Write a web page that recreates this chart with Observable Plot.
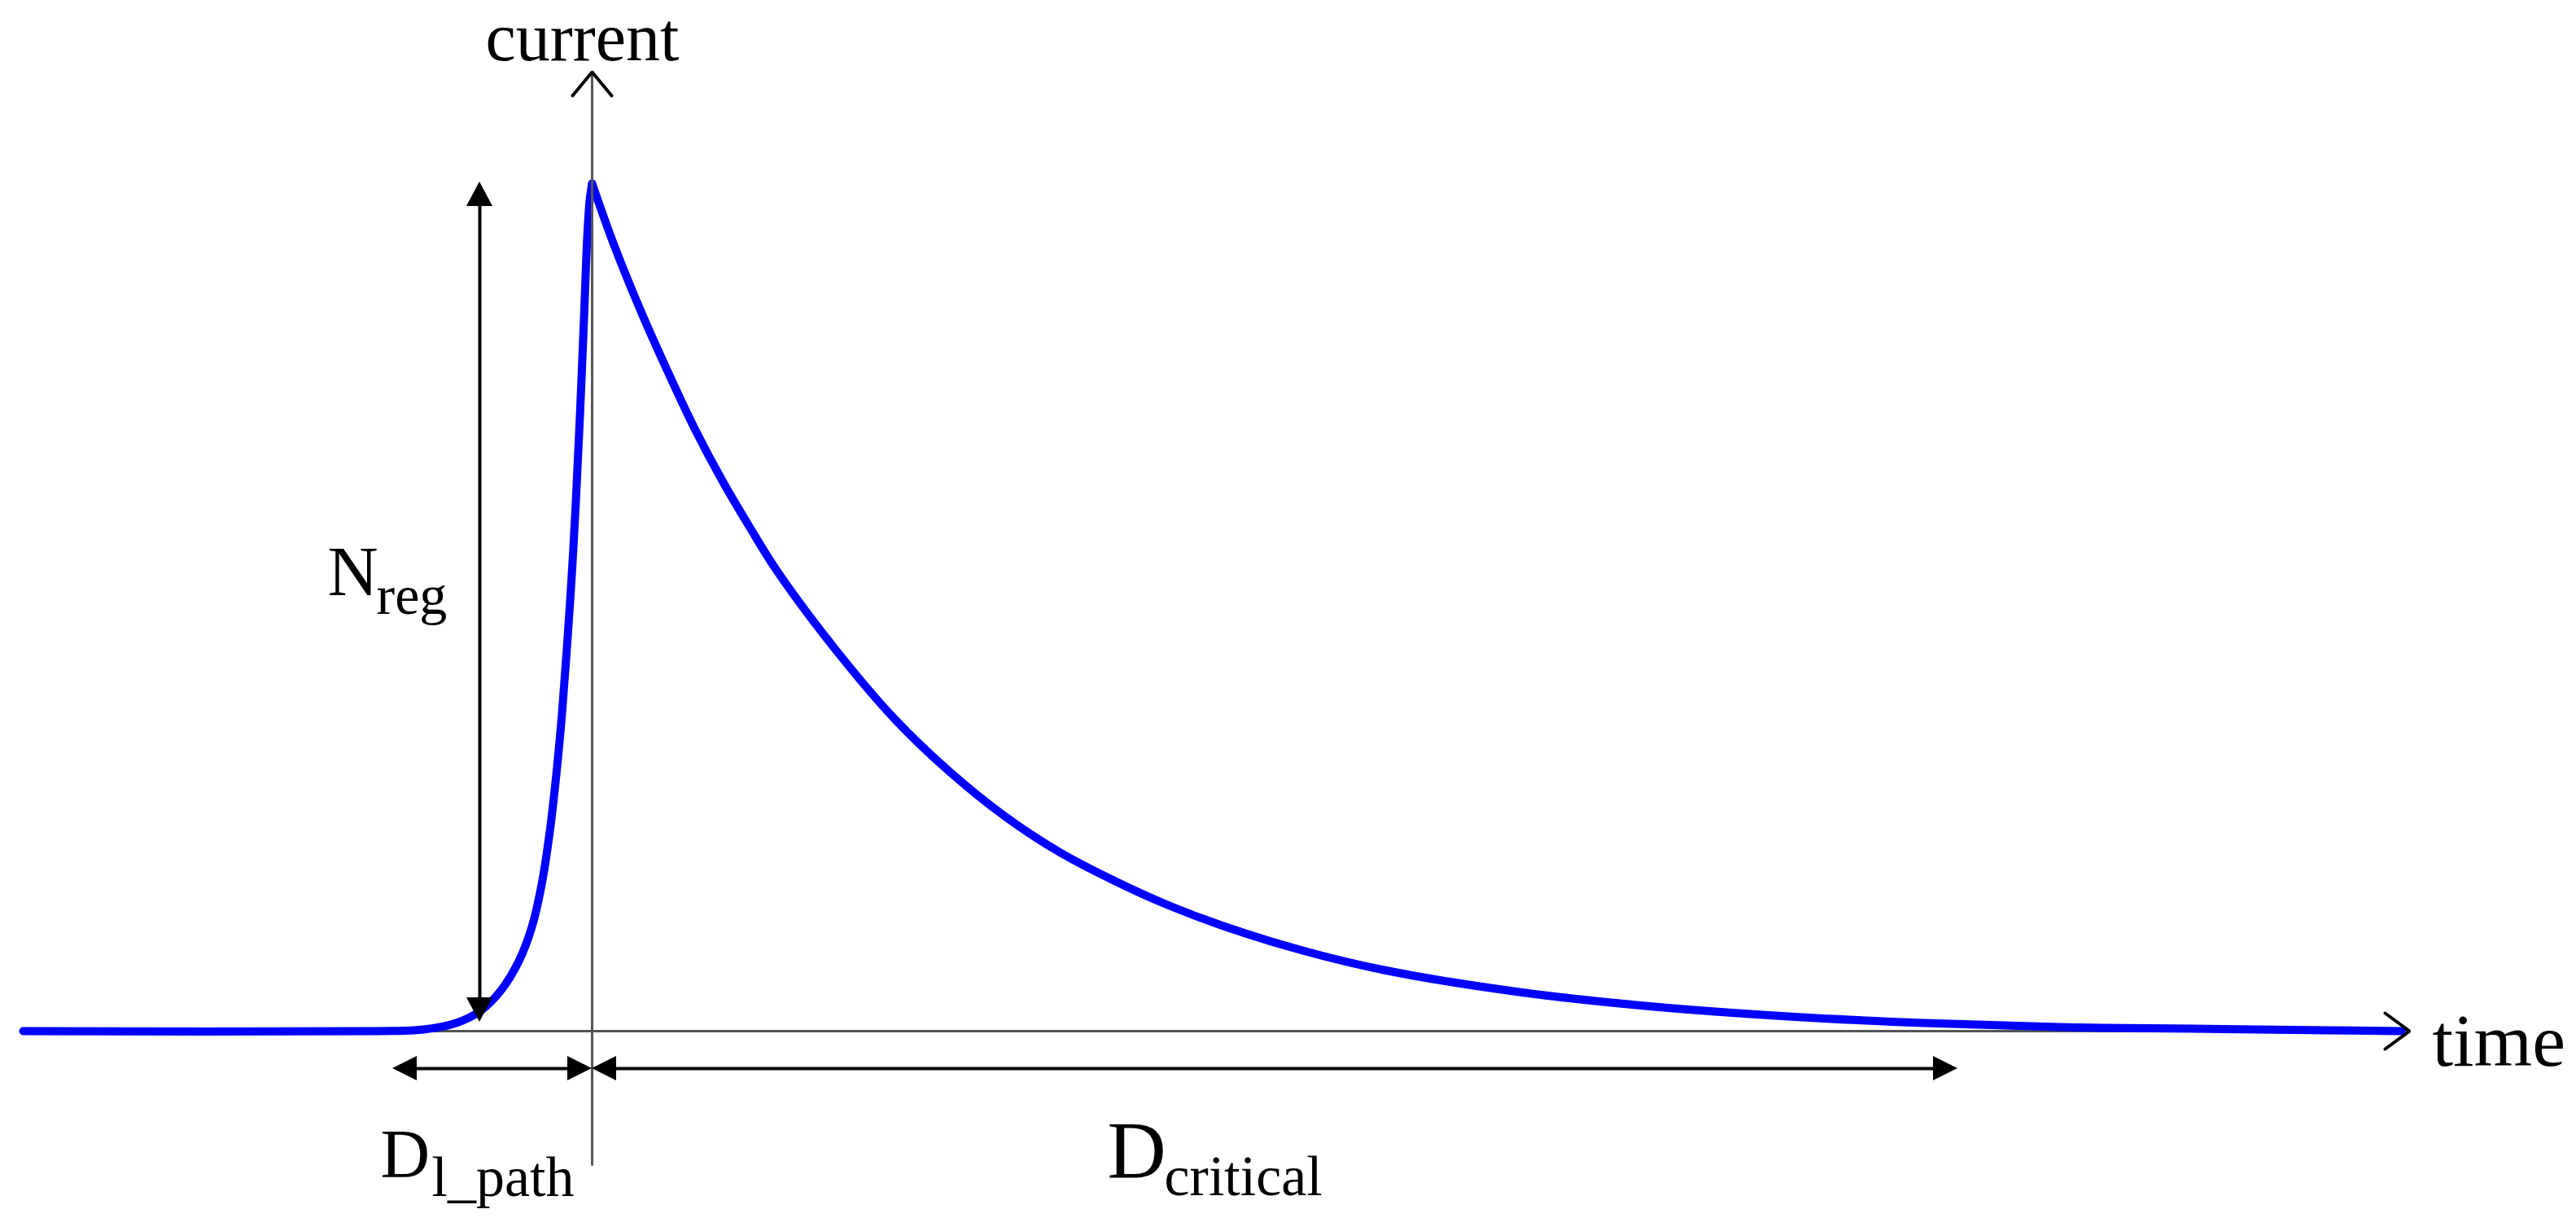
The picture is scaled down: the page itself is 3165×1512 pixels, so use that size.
<!DOCTYPE html>
<html>
<head>
<meta charset="utf-8">
<script src="https://cdn.jsdelivr.net/npm/d3@7"></script>
<script src="https://cdn.jsdelivr.net/npm/@observablehq/plot@0.6"></script>
<style>
  html, body { margin: 0; padding: 0; background: #fff; overflow: hidden; }
</style>
</head>
<body>
<div id="chart"></div>
<script>
// ---- curve (time in arbitrary units, current normalised so the peak is ~10.4) ----
// rising edge (with the flat lead-in), up to the peak
const riseTime = [-6.99, -2.67, -2.07, -1.67, -1.37, -1.12, -0.90, -0.74, -0.62, -0.52,
  -0.44, -0.37, -0.31, -0.25, -0.20, -0.15, -0.10, -0.06, -0.03, 0];
const riseCurrent = [0, 0, 0.02, 0.10, 0.25, 0.50, 0.86, 1.28, 1.80, 2.45,
  3.15, 3.90, 4.70, 5.60, 6.50, 7.55, 8.75, 9.75, 10.20, 10.41];
// decaying tail, from the peak
const decayTime = [0, 0.26, 0.60, 0.93, 1.26, 1.60, 1.93, 2.26, 2.98, 3.73,
  4.40, 5.07, 5.74, 6.41, 7.07, 7.73, 8.73, 9.73, 11.39, 13.05,
  14.70, 16.36, 18.02, 19.68, 21.33, 22.23];
const decayCurrent = [10.41, 9.68, 8.84, 8.10, 7.40, 6.76, 6.20, 5.67, 4.70, 3.82,
  3.18, 2.64, 2.20, 1.85, 1.55, 1.30, 0.99, 0.75, 0.48, 0.30,
  0.18, 0.10, 0.05, 0.03, 0.01, 0];

// ---- axes extents ----
const timeAxisRange = [-7.0, 22.33];
const currentAxisRange = [-1.64, 11.78];

// ---- duration spans (D arrows) ----
const spanNames = ["l_path", "critical"];
const spanStart = [-2.45, 0];
const spanEnd = [0, 16.78];
const spanLevel = -0.46;

// ---- N_reg arrow ----
const nregTime = -1.38;
const nregRange = [0.11, 10.43];

// ---- labels ----
const axisLabels = ["current", "time"];
const axisLabelTime = [-0.12, 22.61];
const axisLabelCurrent = [11.93, -0.42];
const mainLabels = ["N", "D", "D"];
const mainLabelTime = [-3.25, -2.60, 6.33];
const mainLabelCurrent = [5.36, -1.79, -1.79];
const subLabels = ["reg", "l_path", "critical"];
const subLabelTime = [-2.65, -1.97, 7.03];
const subLabelCurrent = [5.13, -2.02, -2.01];

// ---- build tables ----
const curve = [
  ...riseTime.map((t, i) => ({part: "rise", t, c: riseCurrent[i]})),
  ...decayTime.map((t, i) => ({part: "decay", t, c: decayCurrent[i]}))
];
const U = 0.01; // data units per pixel (both scales are 100 px per unit)
const headLen = 30 * U, headHalf = 15 * U;

const timeAxis = [{t: timeAxisRange[0], c: 0}, {t: timeAxisRange[1], c: 0}];
const currentAxis = [{t: 0, c: currentAxisRange[0]}, {t: 0, c: currentAxisRange[1]}];
const timeChevron = [
  {t: timeAxisRange[1] - headLen, c: 0.22},
  {t: timeAxisRange[1], c: 0},
  {t: timeAxisRange[1] - headLen, c: -0.22}];
const currentChevron = [
  {t: -0.24, c: currentAxisRange[1] - 0.29},
  {t: 0, c: currentAxisRange[1]},
  {t: 0.24, c: currentAxisRange[1] - 0.29}];

// span shafts and heads
const spanShafts = [];
const hHeads = [];
spanNames.forEach((name, k) => {
  spanShafts.push({z: name, t: spanStart[k] + headLen * 0.8, c: spanLevel});
  spanShafts.push({z: name, t: spanEnd[k] - headLen * 0.8, c: spanLevel});
  hHeads.push({z: name + "L", t: spanStart[k], y1: spanLevel, y2: spanLevel});
  hHeads.push({z: name + "L", t: spanStart[k] + headLen, y1: spanLevel - headHalf, y2: spanLevel + headHalf});
  hHeads.push({z: name + "R", t: spanEnd[k] - headLen, y1: spanLevel - headHalf, y2: spanLevel + headHalf});
  hHeads.push({z: name + "R", t: spanEnd[k], y1: spanLevel, y2: spanLevel});
});
const nregShaft = [
  {t: nregTime, c: nregRange[0] + headLen * 0.8},
  {t: nregTime, c: nregRange[1] - headLen * 0.8}];
const vHeads = [
  {z: "bottom", c: nregRange[0], x1: nregTime, x2: nregTime},
  {z: "bottom", c: nregRange[0] + headLen, x1: nregTime - 16 * U, x2: nregTime + 16 * U},
  {z: "top", c: nregRange[1] - headLen, x1: nregTime - 16 * U, x2: nregTime + 16 * U},
  {z: "top", c: nregRange[1], x1: nregTime, x2: nregTime}];

const lbl = (texts, ts, cs, idx) => [{text: texts[idx], t: ts[idx], c: cs[idx]}];

const chart = Plot.plot({
  width: 3165,
  height: 1512,
  margin: 0,
  x: {domain: [-7.27, 24.38], axis: null},
  y: {domain: [-2.46, 12.66], axis: null},
  style: {fontFamily: "'Liberation Serif', 'Times New Roman', serif", background: "white", color: "black"},
  marks: [
    Plot.line(timeAxis, {x: "t", y: "c", stroke: "#555", strokeWidth: 3}),
    Plot.line(curve, {x: "t", y: "c", z: "part", curve: "catmull-rom", stroke: "#0000ff", strokeWidth: 10, strokeLinejoin: "round", strokeLinecap: "round"}),
    Plot.line(currentAxis, {x: "t", y: "c", stroke: "#555", strokeWidth: 3}),
    Plot.line(timeChevron, {x: "t", y: "c", stroke: "black", strokeWidth: 4, strokeLinejoin: "miter"}),
    Plot.line(currentChevron, {x: "t", y: "c", stroke: "black", strokeWidth: 4, strokeLinejoin: "miter"}),
    Plot.line(spanShafts, {x: "t", y: "c", z: "z", stroke: "black", strokeWidth: 4}),
    Plot.areaY(hHeads, {x: "t", y1: "y1", y2: "y2", z: "z", fill: "black"}),
    Plot.line(nregShaft, {x: "t", y: "c", stroke: "black", strokeWidth: 4}),
    Plot.areaX(vHeads, {y: "c", x1: "x1", x2: "x2", z: "z", fill: "black"}),
    Plot.text(lbl(axisLabels, axisLabelTime, axisLabelCurrent, 0), {x: "t", y: "c", text: "text", fontSize: 84, textAnchor: "middle", lineAnchor: "bottom", fill: "black"}),
    Plot.text(lbl(axisLabels, axisLabelTime, axisLabelCurrent, 1), {x: "t", y: "c", text: "text", fontSize: 92, textAnchor: "start", lineAnchor: "bottom", fill: "black"}),
    Plot.text(lbl(mainLabels, mainLabelTime, mainLabelCurrent, 0), {x: "t", y: "c", text: "text", fontSize: 86, textAnchor: "start", lineAnchor: "bottom", fill: "black"}),
    Plot.text(lbl(mainLabels, mainLabelTime, mainLabelCurrent, 1), {x: "t", y: "c", text: "text", fontSize: 84, textAnchor: "start", lineAnchor: "bottom", fill: "black"}),
    Plot.text(lbl(mainLabels, mainLabelTime, mainLabelCurrent, 2), {x: "t", y: "c", text: "text", fontSize: 100, textAnchor: "start", lineAnchor: "bottom", fill: "black"}),
    Plot.text(lbl(subLabels, subLabelTime, subLabelCurrent, 0), {x: "t", y: "c", text: "text", fontSize: 68, textAnchor: "start", lineAnchor: "bottom", fill: "black"}),
    Plot.text(lbl(subLabels, subLabelTime, subLabelCurrent, 1), {x: "t", y: "c", text: "text", fontSize: 70, textAnchor: "start", lineAnchor: "bottom", fill: "black"}),
    Plot.text(lbl(subLabels, subLabelTime, subLabelCurrent, 2), {x: "t", y: "c", text: "text", fontSize: 70, textAnchor: "start", lineAnchor: "bottom", fill: "black"})
  ]
});
document.getElementById("chart").appendChild(chart);
</script>
</body>
</html>
